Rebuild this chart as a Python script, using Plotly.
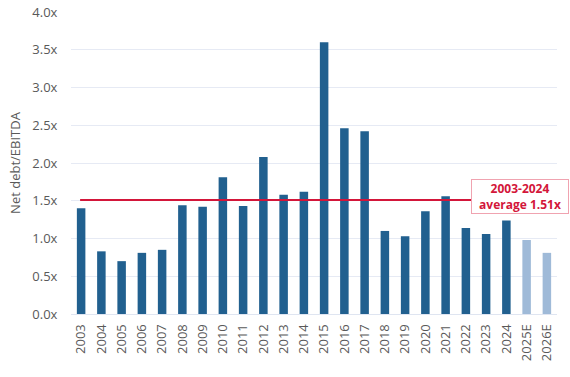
import plotly.graph_objects as go

years = ["2003", "2004", "2005", "2006", "2007", "2008", "2009", "2010", "2011", "2012",
         "2013", "2014", "2015", "2016", "2017", "2018", "2019", "2020", "2021", "2022",
         "2023", "2024", "2025E", "2026E"]
net_debt_ebitda = [1.40, 0.83, 0.70, 0.81, 0.85, 1.44, 1.42, 1.81, 1.43, 2.08,
                   1.58, 1.62, 3.60, 2.46, 2.42, 1.10, 1.03, 1.36, 1.56, 1.14,
                   1.06, 1.24, 0.98, 0.81]
average_value = 1.51
average_label = "2003-2024<br>average 1.51x"
y_ticks = [0, 0.5, 1.0, 1.5, 2.0, 2.5, 3.0, 3.5, 4.0]
y_tick_labels = ["0.0x", "0.5x", "1.0x", "1.5x", "2.0x", "2.5x", "3.0x", "3.5x", "4.0x"]

dark = "#21608f"
light = "#9fbad8"
colors = [light if y.endswith("E") else dark for y in years]

fig = go.Figure()
fig.add_trace(go.Bar(
    x=years, y=net_debt_ebitda,
    marker=dict(color=colors, line=dict(width=0)),
    width=0.42,
))

fig.add_shape(type="line", xref="x", yref="y",
              x0=-0.05, x1=19.3, y0=average_value, y1=average_value,
              line=dict(color="#d3163a", width=2))

fig.add_annotation(xref="paper", yref="y", x=(520 - 71) / 486, y=average_value + 0.045,
                   xanchor="center", yanchor="middle",
                   text=average_label, showarrow=False,
                   font=dict(family="Open Sans, sans-serif", size=12, color="#d3163a", weight="bold"),
                   bgcolor="white", bordercolor="#f0a3b0", borderwidth=1,
                   width=94, height=31, borderpad=1, align="center")

font_main = dict(family="Open Sans, sans-serif", size=13, color="#595959")

fig.update_layout(
    width=570, height=377,
    margin=dict(l=71, r=13, t=12, b=63),
    plot_bgcolor="white", paper_bgcolor="white",
    showlegend=False,
    font=font_main,
    bargap=0.58,
)
fig.update_xaxes(
    type="category", tickangle=-90, tickfont=font_main, automargin=False,
    showgrid=False, showline=True, linecolor="#dfe5f1", linewidth=1,
    ticks="outside", ticklen=4, tickcolor="rgba(0,0,0,0)",
)
fig.update_yaxes(
    range=[0, 4.0], tickvals=y_ticks, ticktext=y_tick_labels, automargin=False,
    showgrid=True, gridcolor="#e6eaf4", gridwidth=1, zeroline=False,
    ticks="outside", ticklen=10, tickcolor="rgba(0,0,0,0)",
    title=dict(text="Net debt/EBITDA", font=font_main, standoff=8),
)

fig.write_html("out.html", config={"displayModeBar": False},
               post_script="document.body.style.margin='0';document.body.style.overflow='hidden';")
